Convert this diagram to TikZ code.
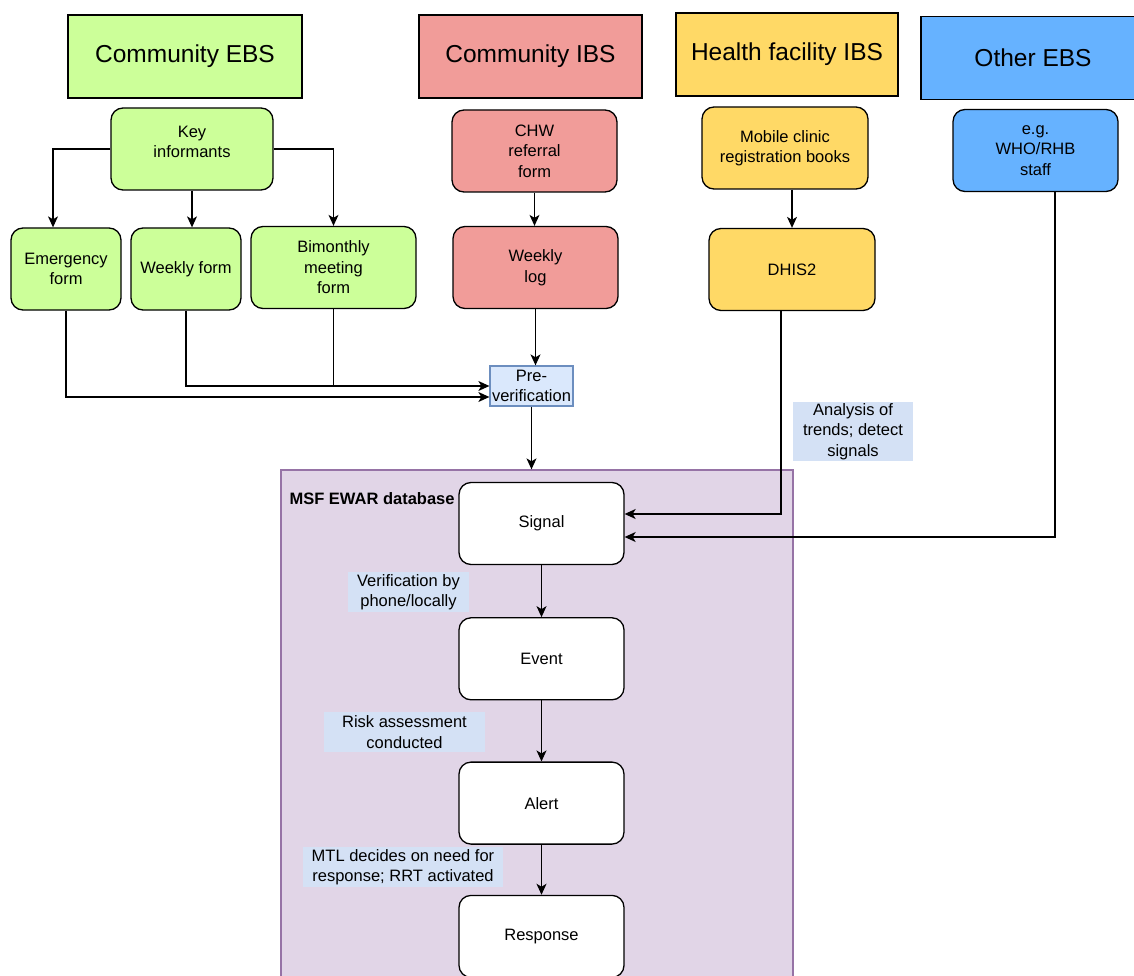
\documentclass[tikz,border=0pt]{standalone}
\usepackage{fontspec}
\setmainfont{Liberation Sans}
\usetikzlibrary{arrows.meta, positioning, calc}

\definecolor{ebsgreen}{HTML}{CCFF99}
\definecolor{ibsred}{HTML}{F19C99}
\definecolor{hfyellow}{HTML}{FFD966}
\definecolor{otherblue}{HTML}{66B2FF}
\definecolor{prefill}{HTML}{DAE8FC}
\definecolor{predraw}{HTML}{6C8EBF}
\definecolor{dbfill}{HTML}{E1D5E7}
\definecolor{dbdraw}{HTML}{9673A6}
\definecolor{notefill}{HTML}{D4E1F5}

\begin{document}
\begin{tikzpicture}[x=1pt, y=-1pt,
    head/.style={rectangle, draw, line width=1.3pt, minimum width=#1, minimum height=83pt, font=\fontsize{24.5}{28}\selectfont},
    src/.style={rectangle, rounded corners=12pt, draw, line width=1.3pt, minimum width=#1, minimum height=82pt, align=center, font=\fontsize{16.5}{20.5}\selectfont},
    note/.style={fill=notefill, minimum width=#1, minimum height=40pt, inner sep=1pt, align=center, font=\fontsize{16.5}{20.5}\selectfont},
    arr/.style={-{Stealth[length=11pt, width=10pt, inset=3pt]}, line width=1.2pt}
]
\useasboundingbox (0,0) rectangle (1134,976);
\fill[white] (0,0) rectangle (1134,976);

\node[head=234pt, fill=ebsgreen] (hebs) at (185,56.5) {Community EBS};
\node[head=223pt, fill=ibsred] (hibs) at (530.5,56.5) {Community IBS};
\node[head=222pt, fill=hfyellow] (hhf) at (787,54.5) {Health facility IBS};
\node[head=224pt, fill=otherblue] (hother) at (1033,58) {Other EBS};

\node[src=162pt, fill=ebsgreen, text depth=14pt] (key) at (192,149) {Key\\informants};
\node[src=165pt, fill=ibsred] (chw) at (534.5,151) {CHW\\referral\\form};
\node[src=166pt, fill=hfyellow] (mob) at (785,148) {Mobile clinic\\registration books};
\node[src=165pt, fill=otherblue] (who) at (1035.5,150.5) {e.g.\\WHO/RHB\\staff};

\node[src=110pt, fill=ebsgreen] (emerg) at (66,269) {Emergency\\form};
\node[src=110pt, fill=ebsgreen] (weekly) at (186,269) {Weekly form};
\node[src=165pt, fill=ebsgreen] (bim) at (333.5,267.5) {Bimonthly\\meeting\\form};
\node[src=165pt, fill=ibsred] (wlog) at (535.5,267.5) {Weekly\\log};
\node[src=166pt, fill=hfyellow] (dhis) at (792,269.5) {DHIS2};

\node[rectangle, draw=predraw, fill=prefill, line width=1.3pt, minimum width=83pt, minimum height=40pt, inner sep=1pt, align=center, font=\fontsize{16.5}{20.5}\selectfont] (pre) at (531.5,386) {Pre-\\verification};

\node[rectangle, draw=dbdraw, fill=dbfill, line width=1.3pt, minimum width=512pt, minimum height=520pt] (db) at (537,730) {};
\node[anchor=west, font=\fontsize{16.5}{19}\selectfont\bfseries] (dblabel) at (286,499) {MSF EWAR database};

\node[src=165pt, fill=white] (signal) at (541.5,523.5) {Signal};
\node[src=165pt, fill=white, below=52pt of signal] (event) {Event};
\node[src=165pt, fill=white, below=61pt of event] (alert) {Alert};
\node[src=165pt, fill=white, below=50pt of alert] (response) {Response};

\node[note=121pt] (vnote) at (408.5,592) {Verification by\\phone/locally};
\node[note=161pt] (rnote) at (404.5,732) {Risk assessment\\conducted};
\node[note=200pt] (mnote) at (403,867) {MTL decides on need for\\response; RRT activated};
\node[note=120pt, minimum height=59pt] (anote) at (853,431.5) {Analysis of\\trends; detect\\signals};

\draw[arr] (key.west) -| ([xshift=-13pt]emerg.north);
\draw[arr] (key.south) -- (key.south |- weekly.north);
\draw[arr] (key.east) -| (bim.north);
\draw[arr] (chw.south) -- (chw.south |- wlog.north);
\draw[arr] (mob.south -| dhis) -- (dhis.north);

\draw[arr] (emerg.south) |- ([yshift=-11pt]pre.west);
\draw[arr] (weekly.south) |- (pre.west);
\draw[line width=1.2pt] (bim.south) -- (bim.south |- pre.west);
\draw[arr] (wlog.south) -- (wlog.south |- pre.north);
\draw[arr] (pre.south) -- (pre.south |- db.north);

\draw[arr] ([xshift=-11pt]dhis.south) |- ([yshift=9.5pt]signal.east);
\draw[arr] ([xshift=19.5pt]who.south) |- ([yshift=-13.5pt]signal.east);

\draw[arr] (signal.south) -- (event.north);
\draw[arr] (event.south) -- (alert.north);
\draw[arr] (alert.south) -- (response.north);
\end{tikzpicture}
\end{document}
